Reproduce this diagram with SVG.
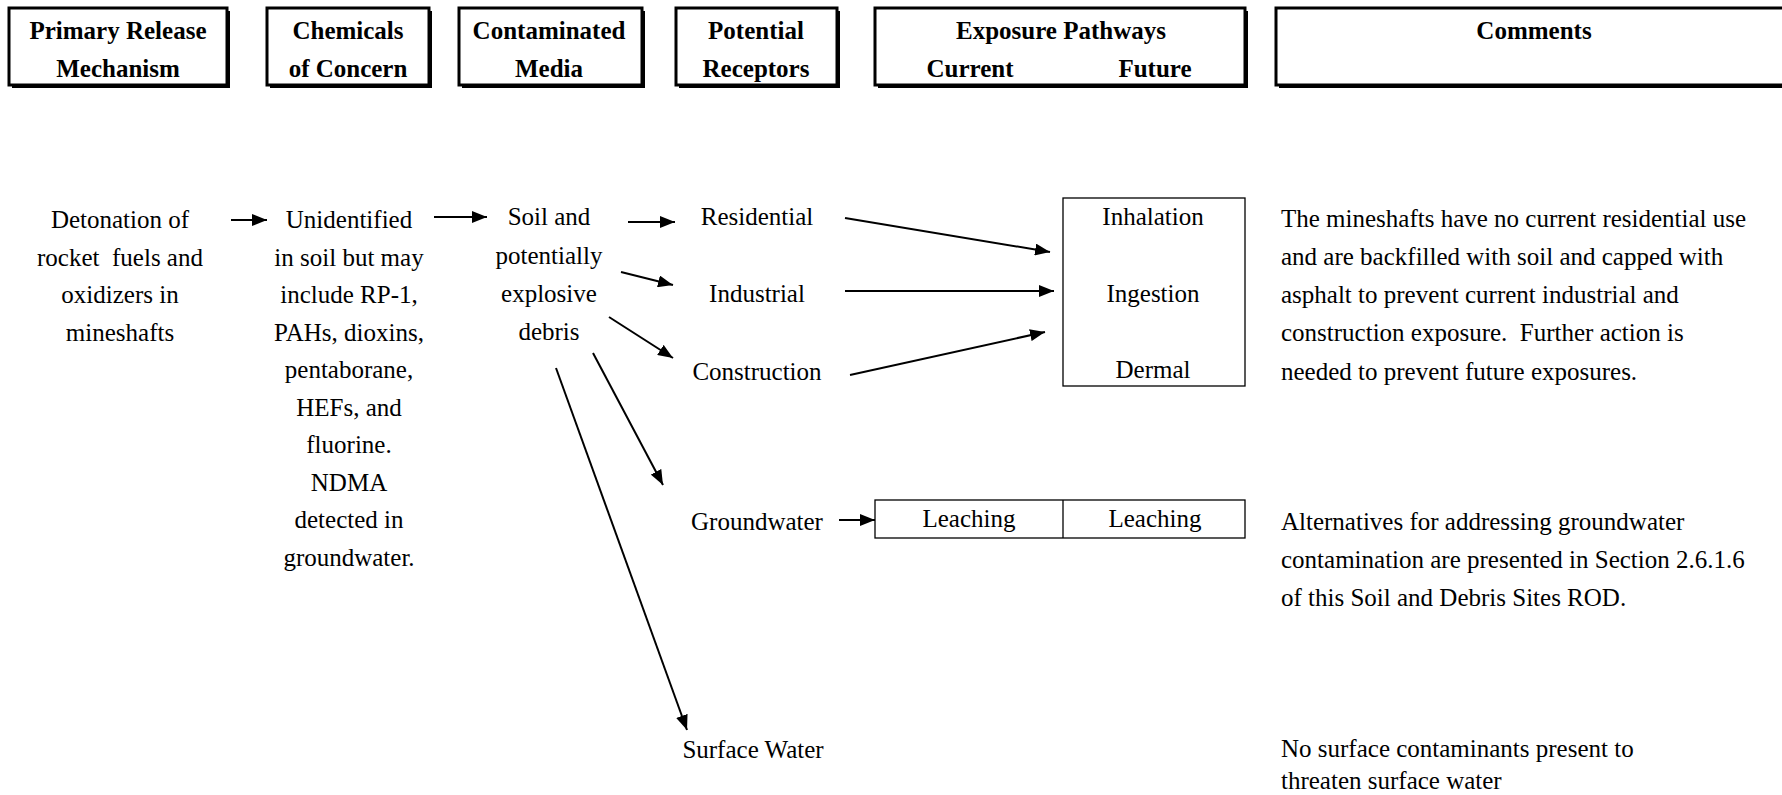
<svg xmlns="http://www.w3.org/2000/svg" width="1782" height="795" viewBox="0 0 1782 795">
  <style>
    text { font-family: "Liberation Serif", "Times New Roman", serif; font-size: 25px; fill: #000; white-space: pre; }
    .hd { font-weight: bold; text-anchor: middle; }
    .c { text-anchor: middle; }
    .hbox { fill: #fff; stroke: #000; stroke-width: 3; }
    .shadow { fill: none; stroke: #000; stroke-width: 2; }
    .box { fill: #fff; stroke: #000; stroke-width: 1.3; }
    .conn line { stroke: #000; stroke-width: 2; marker-end: url(#arrow); }
  </style>
  <defs>
    <marker id="arrow" markerUnits="userSpaceOnUse" markerWidth="16" markerHeight="12" refX="15" refY="6" orient="auto">
      <path d="M0,0 L15,6 L0,12 z" fill="#000"/>
    </marker>
  </defs>
  <rect width="1782" height="795" fill="#fff"/>

  <!-- column headers -->
  <g id="hdr-release">
    <rect class="hbox" x="9" y="8" width="218" height="77"/>
    <path class="shadow" d="M229,11 V87 H12"/>
    <text class="hd" x="118" y="39">Primary Release</text>
    <text class="hd" x="118" y="77">Mechanism</text>
  </g>
  <g id="hdr-chemicals">
    <rect class="hbox" x="267" y="8" width="162" height="77"/>
    <path class="shadow" d="M431,11 V87 H270"/>
    <text class="hd" x="348" y="39">Chemicals</text>
    <text class="hd" x="348" y="77">of Concern</text>
  </g>
  <g id="hdr-media">
    <rect class="hbox" x="459" y="8" width="183" height="77"/>
    <path class="shadow" d="M644,11 V87 H462"/>
    <text class="hd" x="549" y="39">Contaminated</text>
    <text class="hd" x="549" y="77">Media</text>
  </g>
  <g id="hdr-receptors">
    <rect class="hbox" x="676" y="8" width="161" height="77"/>
    <path class="shadow" d="M839,11 V87 H679"/>
    <text class="hd" x="756" y="39">Potential</text>
    <text class="hd" x="756" y="77">Receptors</text>
  </g>
  <g id="hdr-pathways">
    <rect class="hbox" x="875" y="8" width="370" height="77"/>
    <path class="shadow" d="M1247,11 V87 H878"/>
    <text class="hd" x="1061" y="39">Exposure Pathways</text>
    <text class="hd" x="970" y="77">Current</text>
    <text class="hd" x="1155" y="77">Future</text>
  </g>
  <g id="hdr-comments">
    <rect class="hbox" x="1276" y="8" width="520" height="77"/>
    <path class="shadow" d="M1279,87 H1796"/>
    <text class="hd" x="1534" y="39">Comments</text>
  </g>

  <!-- release mechanism -->
  <g id="n-release">
    <text class="c" x="120" y="228">Detonation of</text>
    <text class="c" x="120" y="266">rocket  fuels and</text>
    <text class="c" x="120" y="303">oxidizers in</text>
    <text class="c" x="120" y="341">mineshafts</text>
  </g>

  <!-- chemicals of concern -->
  <g id="n-chemicals">
    <text class="c" x="349" y="228">Unidentified</text>
    <text class="c" x="349" y="265.5">in soil but may</text>
    <text class="c" x="349" y="303">include RP-1,</text>
    <text class="c" x="349" y="340.5">PAHs, dioxins,</text>
    <text class="c" x="349" y="378">pentaborane,</text>
    <text class="c" x="349" y="415.5">HEFs, and</text>
    <text class="c" x="349" y="453">fluorine.</text>
    <text class="c" x="349" y="490.5">NDMA</text>
    <text class="c" x="349" y="528">detected in</text>
    <text class="c" x="349" y="565.5">groundwater.</text>
  </g>

  <!-- contaminated media -->
  <g id="n-media">
    <text class="c" x="549" y="225">Soil and</text>
    <text class="c" x="549" y="264">potentially</text>
    <text class="c" x="549" y="302">explosive</text>
    <text class="c" x="549" y="340">debris</text>
  </g>

  <!-- receptors -->
  <g id="n-residential"><text class="c" x="757" y="225">Residential</text></g>
  <g id="n-industrial"><text class="c" x="757" y="302">Industrial</text></g>
  <g id="n-construction"><text class="c" x="757" y="380">Construction</text></g>
  <g id="n-groundwater"><text class="c" x="757" y="530">Groundwater</text></g>
  <g id="n-surface"><text class="c" x="753" y="758">Surface Water</text></g>

  <!-- exposure routes -->
  <g id="n-routes">
    <rect class="box" x="1063" y="198" width="182" height="188"/>
    <text class="c" x="1153" y="225">Inhalation</text>
    <text class="c" x="1153" y="302">Ingestion</text>
    <text class="c" x="1153" y="378">Dermal</text>
  </g>
  <g id="n-leaching">
    <rect class="box" x="875" y="500" width="370" height="38"/>
    <line x1="1063" y1="500" x2="1063" y2="538" stroke="#000" stroke-width="1.3"/>
    <text class="c" x="969" y="527">Leaching</text>
    <text class="c" x="1155" y="527">Leaching</text>
  </g>

  <!-- comments -->
  <g id="n-comment-soil">
    <text x="1281" y="227">The mineshafts have no current residential use</text>
    <text x="1281" y="265">and are backfilled with soil and capped with</text>
    <text x="1281" y="303">asphalt to prevent current industrial and</text>
    <text x="1281" y="341">construction exposure.  Further action is</text>
    <text x="1281" y="380">needed to prevent future exposures.</text>
  </g>
  <g id="n-comment-gw">
    <text x="1281" y="530">Alternatives for addressing groundwater</text>
    <text x="1281" y="568">contamination are presented in Section 2.6.1.6</text>
    <text x="1281" y="606">of this Soil and Debris Sites ROD.</text>
  </g>
  <g id="n-comment-sw">
    <text x="1281" y="757">No surface contaminants present to</text>
    <text x="1281" y="789">threaten surface water</text>
  </g>

  <!-- connectors -->
  <g id="connectors" class="conn">
    <line x1="231" y1="220" x2="267" y2="220"/>
    <line x1="434" y1="217" x2="487" y2="217"/>
    <line x1="628" y1="222" x2="675" y2="222"/>
    <line x1="621" y1="272" x2="673" y2="285"/>
    <line x1="609" y1="317" x2="673" y2="358"/>
    <line x1="593" y1="353" x2="663" y2="485"/>
    <line x1="556" y1="368" x2="687" y2="730"/>
    <line x1="845" y1="218" x2="1050" y2="252"/>
    <line x1="845" y1="291" x2="1054" y2="291"/>
    <line x1="850" y1="375" x2="1045" y2="332"/>
    <line x1="839" y1="520" x2="875" y2="520"/>
  </g>
</svg>
